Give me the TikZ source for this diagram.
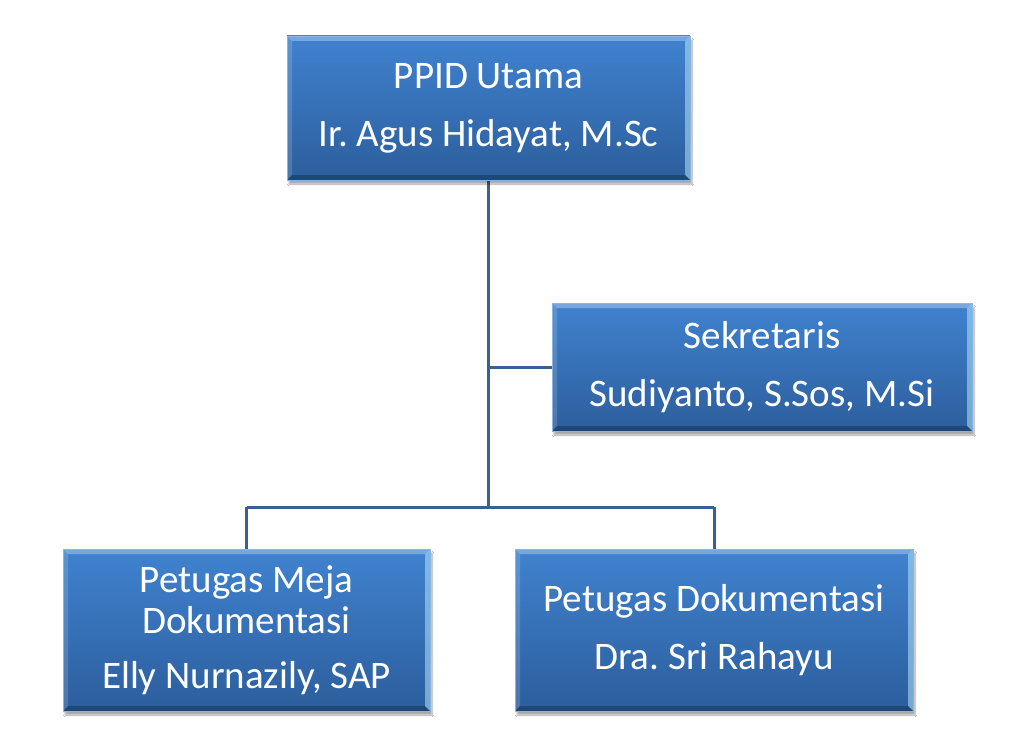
\documentclass[tikz,border=0pt]{standalone}
\usepackage{fontspec}
\setmainfont{Carlito}
\usetikzlibrary{shadows.blur}
\definecolor{boxtop}{RGB}{64,130,208}
\definecolor{boxbot}{RGB}{44,94,156}
\definecolor{linec}{RGB}{58,96,145}
\tikzset{
  orgbox/.style={rectangle, inner sep=0pt, align=center, text=white,
    font=\fontsize{39}{41}\selectfont\frenchspacing,
    top color=boxtop, bottom color=boxbot,
    draw=boxtop!60!white, line width=0.8pt,
    blur shadow={shadow xshift=2pt, shadow yshift=-4pt, shadow blur steps=6, shadow opacity=35},
    path picture={
      \fill[white,opacity=0.30] (path picture bounding box.north west) -- (path picture bounding box.north east)
        -- ([xshift=-5pt,yshift=-5pt]path picture bounding box.north east) -- ([xshift=5pt,yshift=-5pt]path picture bounding box.north west) -- cycle;
      \fill[white,opacity=0.15] (path picture bounding box.north west) -- ([xshift=5pt,yshift=-5pt]path picture bounding box.north west)
        -- ([xshift=5pt,yshift=5pt]path picture bounding box.south west) -- (path picture bounding box.south west) -- cycle;
      \fill[cyan!30!white,opacity=0.55] (path picture bounding box.north east) -- ([xshift=-5pt,yshift=-5pt]path picture bounding box.north east)
        -- ([xshift=-5pt,yshift=5pt]path picture bounding box.south east) -- (path picture bounding box.south east) -- cycle;
      \fill[black,opacity=0.25] (path picture bounding box.south west) -- ([xshift=5pt,yshift=5pt]path picture bounding box.south west)
        -- ([xshift=-5pt,yshift=5pt]path picture bounding box.south east) -- (path picture bounding box.south east) -- cycle;
    }},
  conn/.style={draw=linec, line width=3pt}
}
\begin{document}
\begin{tikzpicture}[x=1pt,y=-1pt]
\useasboundingbox[fill=white] (0,0) rectangle (1024,749);
\coordinate (bus) at (488.5,507);
\coordinate (busL) at (246.5,507);
\coordinate (busR) at (714,507);
\coordinate (topbot) at (488.5,180);
\coordinate (sekjoin) at (488.5,367);
% connectors (drawn first, under the boxes)
\draw[conn] (topbot) -- (bus);
\draw[conn] (sekjoin) -- (552,367) coordinate (sekL);
\draw[conn] (busL) -- (busR);
\draw[conn] (busL) -- (246.5,549);
\draw[conn] (busR) -- (714,549);
% boxes
\node[orgbox, minimum width=403pt, minimum height=144pt] (top) at (488.5,108)
  {PPID Utama\\[17pt]Ir. Agus Hidayat, M.Sc};
\node[orgbox, minimum width=420pt, minimum height=128pt] (sek) at (762,367)
  {Sekretaris\\[17pt]Sudiyanto, S.Sos, M.Si};
\node[orgbox, minimum width=367pt, minimum height=162pt] (bl) at (246.5,630)
  {Petugas Meja\\Dokumentasi\\[14pt]Elly Nurnazily, SAP};
\node[orgbox, minimum width=398pt, minimum height=162pt] (br) at (714,630)
  {Petugas Dokumentasi\\[17pt]Dra. Sri Rahayu};
\end{tikzpicture}
\end{document}
